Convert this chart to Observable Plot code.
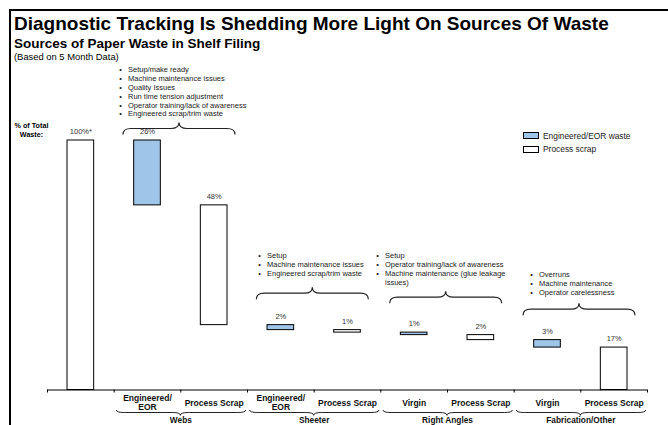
<!DOCTYPE html>
<html>
<head>
<meta charset="utf-8">
<script src="https://cdn.jsdelivr.net/npm/d3@7"></script>
<script src="https://cdn.jsdelivr.net/npm/@observablehq/plot@0.6"></script>
<style>
  html, body { margin: 0; padding: 0; background: #fff; }
  #page { position: relative; width: 668px; height: 425px; overflow: hidden; font-family: Arial, "Liberation Sans", sans-serif; color: #000; background: #fff; }
  #header { position: relative; height: 62px; }
  .hd { position: absolute; left: 14px; white-space: nowrap; }
  #title { top: 14px; font-size: 19px; line-height: 19px; font-weight: bold; }
  #subtitle { top: 37px; font-size: 13.5px; line-height: 13.5px; font-weight: bold; }
  #note { top: 52.3px; font-size: 9.4px; line-height: 9.4px; }
  .frame { position: absolute; background: #000; z-index: 5; }
  #legend { position: absolute; left: 523px; top: 128.7px; z-index: 3; }
  .lg-row { display: flex; align-items: center; height: 13.7px; }
  .lg-sw { width: 16px; height: 7.3px; box-sizing: border-box; border: 1px solid #000; margin-right: 4px; }
  .lg-tx { font-size: 8.4px; color: #222; white-space: nowrap; }
</style>
</head>
<body>
<div id="page">
  <div id="header">
    <div class="hd" id="title">Diagnostic Tracking Is Shedding More Light On Sources Of Waste</div>
    <div class="hd" id="subtitle">Sources of Paper Waste in Shelf Filing</div>
    <div class="hd" id="note">(Based on 5 Month Data)</div>
  </div>
  <div id="chart"></div>
  <div id="legend"></div>
  <div class="frame" style="left:9px;top:9px;right:0;height:2px"></div>
  <div class="frame" style="left:9px;top:9px;width:2px;bottom:0"></div>
</div>
<script>
// ---- data ----
const categories = ["", "Engineered/\nEOR", "Process Scrap", "Engineered/\nEOR", "Process Scrap", "Virgin", "Process Scrap", "Virgin", "Process Scrap"];
const kinds = ["Total", "Engineered/EOR waste", "Process scrap", "Engineered/EOR waste", "Process scrap", "Engineered/EOR waste", "Process scrap", "Engineered/EOR waste", "Process scrap"];
const values = [100, 26, 48, 2, 1, 1, 2, 3, 17];
const valueLabels = ["100%*", "26%", "48%", "2%", "1%", "1%", "2%", "3%", "17%"];
const groupNames = ["Webs", "Sheeter", "Right Angles", "Fabrication/Other"];
const groupNotes = [
  ["Setup/make ready", "Machine maintenance issues", "Quality Issues", "Run time tension adjustment", "Operator training/lack of awareness", "Engineered scrap/trim waste"],
  ["Setup", "Machine maintenance issues", "Engineered scrap/trim waste"],
  ["Setup", "Operator training/lack of awareness", "Machine maintenance (glue leakage\nissues)"],
  ["Overruns", "Machine maintenance", "Operator carelessness"]
];
const yAxisLabel = "% of Total\nWaste:";
const legendLabels = ["Engineered/EOR waste", "Process scrap"];
const legendColors = ["#9fc5e8", "#ffffff"];

// ---- annotation layout (in scale units) ----
const noteX = [1.095, 3.18, 4.95, 7.26];
const noteTop = [129.9, 55.3, 55.3, 47.7];
const braceLevel = [102.2, 36.2, 34.6, 29.8];

// ---- waterfall ----
let running = values[0];
const bars = values.map((v, i) => {
  if (i === 0) return {i, y1: 0, y2: v, kind: kinds[i], label: valueLabels[i]};
  const top = running; running -= v;
  return {i, y1: running, y2: top, kind: kinds[i], label: valueLabels[i]};
});
const catData = categories.map((c, i) => ({i, c}));
const noteData = groupNotes.map((items, k) => ({
  k,
  text: items.join("\n"),
  bullets: items.map(t => "\u2022" + "\n".repeat(t.split("\n").length - 1)).join("\n")
}));

function braces(index, scales) {
  const {x, y} = scales;
  const g = d3.create("svg:g").attr("fill", "none").attr("stroke", "#222");
  const y0 = y(0);
  groupNames.forEach((name, k) => {
    const x1 = x(2 * k + 1.14), x2 = x(2 * k + 2.82), xc = (x1 + x2) / 2;
    const yE = y(braceLevel[k]), yH = yE - 6, yT = yE - 12, r = 8;
    g.append("path").attr("stroke-width", 1.2).attr("d",
      `M${x1},${yE}Q${x1},${yH} ${x1 + r},${yH}L${xc - r},${yH}Q${xc},${yH} ${xc},${yT}Q${xc},${yH} ${xc + r},${yH}L${x2 - r},${yH}Q${x2},${yH} ${x2},${yE}`);
    const b1 = x(2 * k + 1.04), b2 = x(2 * k + 2.98), bc = x(2 * k + 2);
    const bE = y0 + 20.5, bH = y0 + 23, bT = y0 + 25.8, s = 8;
    g.append("path").attr("stroke-width", 1).attr("d",
      `M${b1},${bE}Q${b1},${bH} ${b1 + s},${bH}L${bc - s},${bH}Q${bc},${bH} ${bc},${bT}Q${bc},${bH} ${bc + s},${bH}L${b2 - s},${bH}Q${b2},${bH} ${b2},${bE}`);
  });
  return g.node();
}

const chart = Plot.plot({
  width: 668,
  height: 363,
  marginTop: 78,
  marginBottom: 35.5,
  marginLeft: 47,
  marginRight: 21,
  style: {fontFamily: "Arial, 'Liberation Sans', sans-serif", background: "transparent", color: "#000"},
  x: {domain: [0, 9], ticks: 10, tickSize: 3, tickFormat: () => "", label: null},
  y: {domain: [0, 100], axis: null},
  color: {domain: [...legendLabels, "Total"], range: [...legendColors, "#ffffff"]},
  marks: [
    Plot.rect(bars, {x1: d => d.i + 0.3, x2: d => d.i + 0.7, y1: "y1", y2: "y2", fill: "kind", stroke: "#000", strokeWidth: 1}),
    Plot.ruleY([0], {stroke: "#000", strokeWidth: 1}),
    Plot.text(bars, {x: d => d.i + 0.5, y: "y2", text: "label", dy: -9, fontSize: 7.5, fill: "#333"}),
    Plot.text(catData, {x: d => d.i + 0.5, frameAnchor: "bottom", lineAnchor: "middle", text: "c", dy: 12.7, fontSize: 8.5, fontWeight: "bold", lineHeight: 1.05, fill: "#111"}),
    Plot.text(groupNames, {x: (d, k) => 2 * k + 2, frameAnchor: "bottom", lineAnchor: "bottom", text: d => d, dy: 32.8, fontSize: 8.3, fontWeight: "bold", fill: "#111"}),
    Plot.text([yAxisLabel], {x: () => 0, y: () => 100, text: d => d, dx: -16, dy: -10.5, fontSize: 7.2, fontWeight: "bold", lineHeight: 1.25}),
    Plot.text(noteData, {x: d => noteX[d.k], y: d => noteTop[d.k], text: "text", textAnchor: "start", lineAnchor: "top", dx: 7.5, fontSize: 7.5, lineHeight: 1.18, fill: "#222"}),
    Plot.text(noteData, {x: d => noteX[d.k], y: d => noteTop[d.k], text: "bullets", textAnchor: "middle", lineAnchor: "top", fontSize: 7.5, lineHeight: 1.18, fill: "#222"}),
    braces
  ]
});
document.getElementById("chart").appendChild(chart);

// ---- legend ----
const legend = d3.select("#legend");
legendLabels.forEach((label, i) => {
  const row = legend.append("div").attr("class", "lg-row");
  row.append("div").attr("class", "lg-sw").style("background", legendColors[i]);
  row.append("div").attr("class", "lg-tx").text(label);
});
</script>
</body>
</html>
